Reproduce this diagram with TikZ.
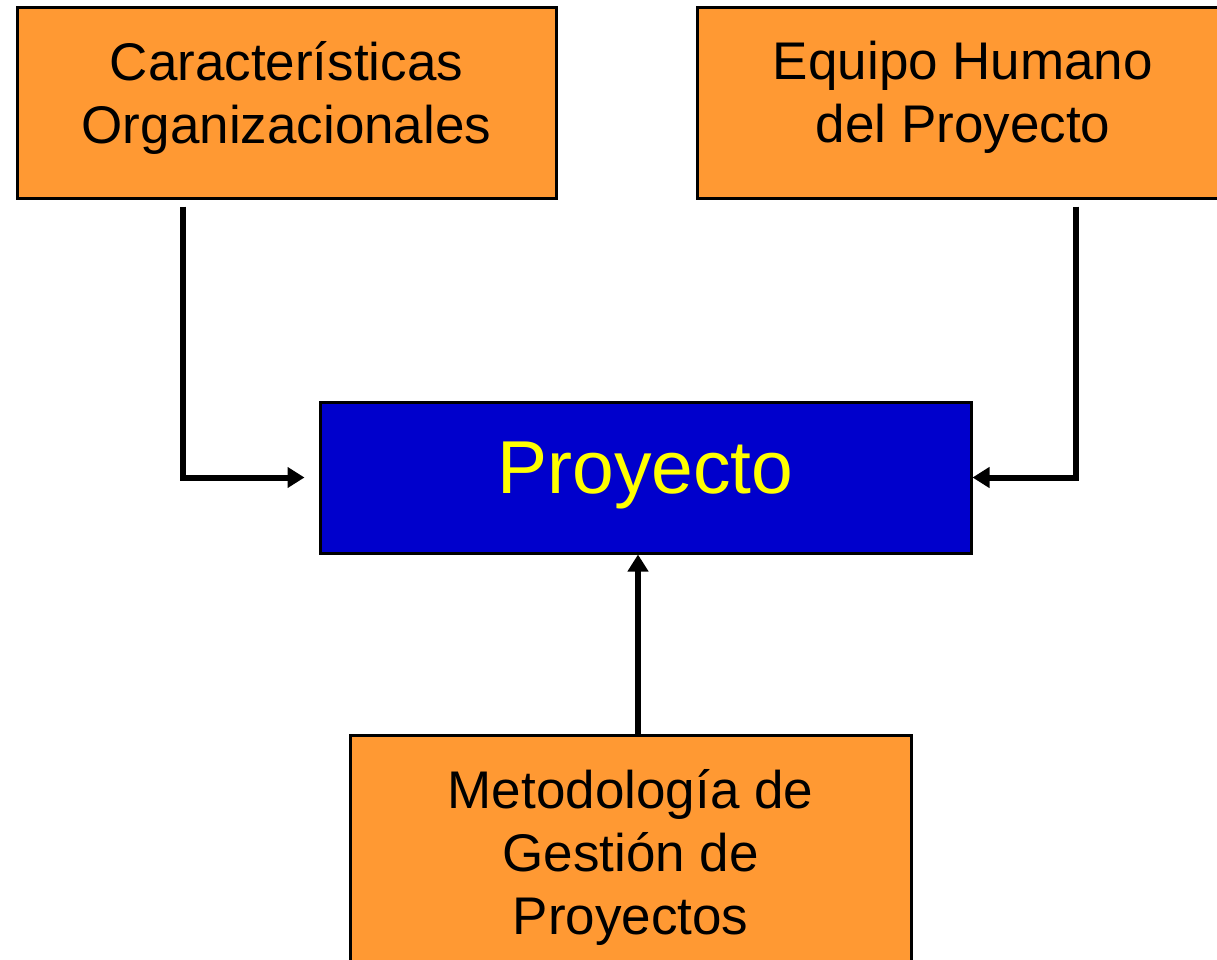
\documentclass[tikz,border=0pt]{standalone}
\usepackage{fontspec}
\setmainfont{Liberation Sans}
\usetikzlibrary{arrows.meta,calc}
\definecolor{boxorange}{HTML}{FF9933}
\definecolor{boxblue}{HTML}{0000CC}
\definecolor{txtyellow}{HTML}{FFFF00}
\begin{document}
\begin{tikzpicture}[x=1pt,y=-1pt,
  obox/.style={draw=black,line width=3pt,fill=boxorange,inner sep=0pt,align=center,
    font=\fontsize{53}{63}\selectfont},
  arr/.style={line width=6pt,-{Triangle[length=17pt,width=20pt]}}]
\useasboundingbox (0,0) rectangle (1217,960);
\clip (0,0) rectangle (1217,960);
\node[obox,minimum width=539pt,minimum height=190pt] (c1) at (286.5,103) {Características\\Organizacionales\rule[-22pt]{0pt}{22pt}};
\node[obox,minimum width=532pt,minimum height=190pt] (c2) at (963,103) {Equipo Humano\\del Proyecto\rule[-22pt]{0pt}{22pt}};
\node[draw=black,line width=3pt,fill=boxblue,text=txtyellow,inner sep=0pt,
  minimum width=651pt,minimum height=151pt,font=\fontsize{75}{80}\selectfont] (p) at (645.5,477.5) {Proyecto\rule[-20pt]{0pt}{20pt}};
\node[obox,minimum width=561pt,minimum height=250pt] (m) at (630.5,860) {Metodología de\\Gestión de\\Proyectos\rule[-16pt]{0pt}{16pt}};
\draw[arr] ($(c1.south west)+(167,7)$) |- ($(p.west)+(-14,0)$);
\draw[arr] ($(c2.south west)+(380,7)$) |- (p.east);
\draw[arr] ($(m.north)+(7.5,0)$) -- ($(p.south)+(-7.5,0)$);
\end{tikzpicture}
\end{document}
